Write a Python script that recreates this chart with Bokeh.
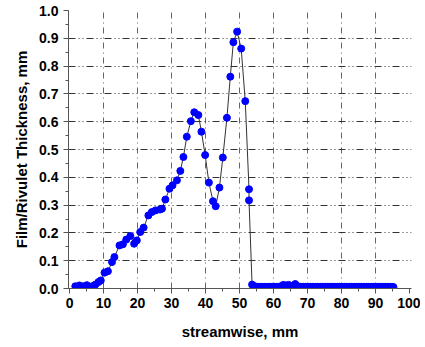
from bokeh.plotting import figure
from bokeh.models import Range1d, SingleIntervalTicker, FixedTicker, PrintfTickFormatter
from bokeh.embed import file_html
from bokeh.resources import INLINE

# streamwise position (mm) and film/rivulet thickness (mm)
x_main = [1.7, 2.9, 4.1, 5.1, 6.6, 7.6, 8.5, 9.2, 10.3, 11.3, 12.5, 13.2, 14.7, 15.7,
          16.7, 17.9, 19.0, 19.8, 20.8, 21.8, 23.2, 24.2, 25.3, 26.6, 27.2, 28.2, 29.4,
          30.3, 31.6, 32.6, 33.5, 34.5, 35.7, 36.7, 37.9, 38.8, 39.9, 41.0, 42.2, 43.0,
          44.1, 45.1, 46.3, 47.3, 48.2, 49.3, 50.5, 51.7, 52.8, 52.8, 53.7]
y_main = [0.008, 0.011, 0.008, 0.012, 0.008, 0.014, 0.023, 0.029, 0.057, 0.062, 0.095,
          0.113, 0.155, 0.159, 0.176, 0.189, 0.161, 0.173, 0.203, 0.219, 0.263, 0.275,
          0.281, 0.284, 0.287, 0.320, 0.359, 0.371, 0.389, 0.423, 0.473, 0.546, 0.602,
          0.634, 0.624, 0.564, 0.480, 0.381, 0.314, 0.296, 0.363, 0.471, 0.614, 0.762,
          0.886, 0.924, 0.863, 0.674, 0.357, 0.317, 0.014]
x_tail = [54.3, 54.8, 55.3, 55.8, 56.3, 56.8, 57.3, 57.8, 58.3, 58.8, 59.3, 59.8, 60.3,
          60.8, 61.3, 61.8, 62.4, 62.9, 63.6, 64.4, 65.0, 65.6, 66.4, 66.9, 67.4, 67.9,
          68.4, 68.9, 69.4, 69.9, 70.4, 70.9, 71.4, 71.9, 72.4, 72.9, 73.4, 73.9, 74.4,
          74.9, 75.4, 75.9, 76.4, 76.9, 77.4, 77.9, 78.4, 78.9, 79.4, 79.9, 80.4, 80.9,
          81.4, 81.9, 82.4, 82.9, 83.4, 83.9, 84.4, 84.9, 85.4, 85.9, 86.4, 86.9, 87.4,
          87.9, 88.4, 88.9, 89.4, 89.9, 90.4, 90.9, 91.4, 91.9, 92.4, 92.9, 93.4, 93.9,
          94.4, 94.9, 95.3]
y_tail = [0.008, 0.007, 0.006, 0.006, 0.006, 0.006, 0.006, 0.006, 0.006, 0.006, 0.006,
          0.006, 0.006, 0.006, 0.006, 0.007, 0.008, 0.013, 0.011, 0.013, 0.010, 0.008,
          0.016, 0.009, 0.007, 0.006, 0.006, 0.006, 0.006, 0.006, 0.006, 0.006, 0.006,
          0.006, 0.006, 0.006, 0.006, 0.006, 0.006, 0.006, 0.006, 0.006, 0.006, 0.006,
          0.006, 0.006, 0.006, 0.006, 0.006, 0.006, 0.006, 0.006, 0.006, 0.006, 0.006,
          0.006, 0.006, 0.006, 0.006, 0.006, 0.006, 0.006, 0.006, 0.006, 0.006, 0.006,
          0.006, 0.006, 0.006, 0.006, 0.006, 0.006, 0.006, 0.006, 0.006, 0.006, 0.006,
          0.006, 0.006, 0.006, 0.005]

xs = x_main + x_tail
ys = y_main + y_tail

x_grid = [10, 20, 30, 40, 50, 60, 70, 80, 90]
y_grid = [0.1, 0.2, 0.3, 0.4, 0.5, 0.6, 0.7, 0.8, 0.9]

p = figure(width=420, height=345, output_backend="svg", toolbar_location=None,
           x_range=Range1d(-0.3, 100.6), y_range=Range1d(0, 1.0),
           min_border_left=68, min_border_right=9, min_border_top=10, min_border_bottom=57)
p.outline_line_color = None
p.background_fill_color = "white"
p.border_fill_color = "white"

p.line(xs, ys, line_color="#333333", line_width=1)
p.scatter(xs, ys, size=7, fill_color="#0000FF", line_color="#0000FF")

p.xaxis.ticker = SingleIntervalTicker(interval=10, num_minor_ticks=2)
p.yaxis.ticker = SingleIntervalTicker(interval=0.1, num_minor_ticks=2)
p.yaxis.formatter = PrintfTickFormatter(format="%.1f")

p.xgrid.ticker = FixedTicker(ticks=x_grid)
p.ygrid.ticker = FixedTicker(ticks=y_grid)
p.xgrid.grid_line_color = "#666666"
p.xgrid.grid_line_dash = "6 4 1 4"
p.ygrid.grid_line_color = "#333333"
p.ygrid.grid_line_dash = "7 3 1 3 1 3"

for ax in (p.xaxis, p.yaxis):
    ax.axis_line_color = "#555555"
    ax.major_tick_line_color = "#555555"
    ax.minor_tick_line_color = "#555555"
    ax.major_tick_out = 5
    ax.major_tick_in = 0
    ax.minor_tick_out = 3
    ax.minor_tick_in = 0
    ax.major_label_text_font = "Liberation Sans"
    ax.major_label_text_font_style = "bold"
    ax.major_label_text_font_size = "14px"
    ax.major_label_text_color = "black"
    ax.axis_label_text_font = "Liberation Sans"
    ax.axis_label_text_font_style = "bold"
    ax.axis_label_text_font_size = "15px"
    ax.axis_label_text_color = "black"

p.xaxis.axis_label = "streamwise, mm"
p.yaxis.axis_label = "Film/Rivulet Thickness, mm"
p.xaxis.major_label_standoff = 4
p.xaxis.axis_label_standoff = 12
p.yaxis.major_label_standoff = 5
p.yaxis.axis_label_standoff = 6

open("out.html", "w").write(file_html(p, INLINE))
